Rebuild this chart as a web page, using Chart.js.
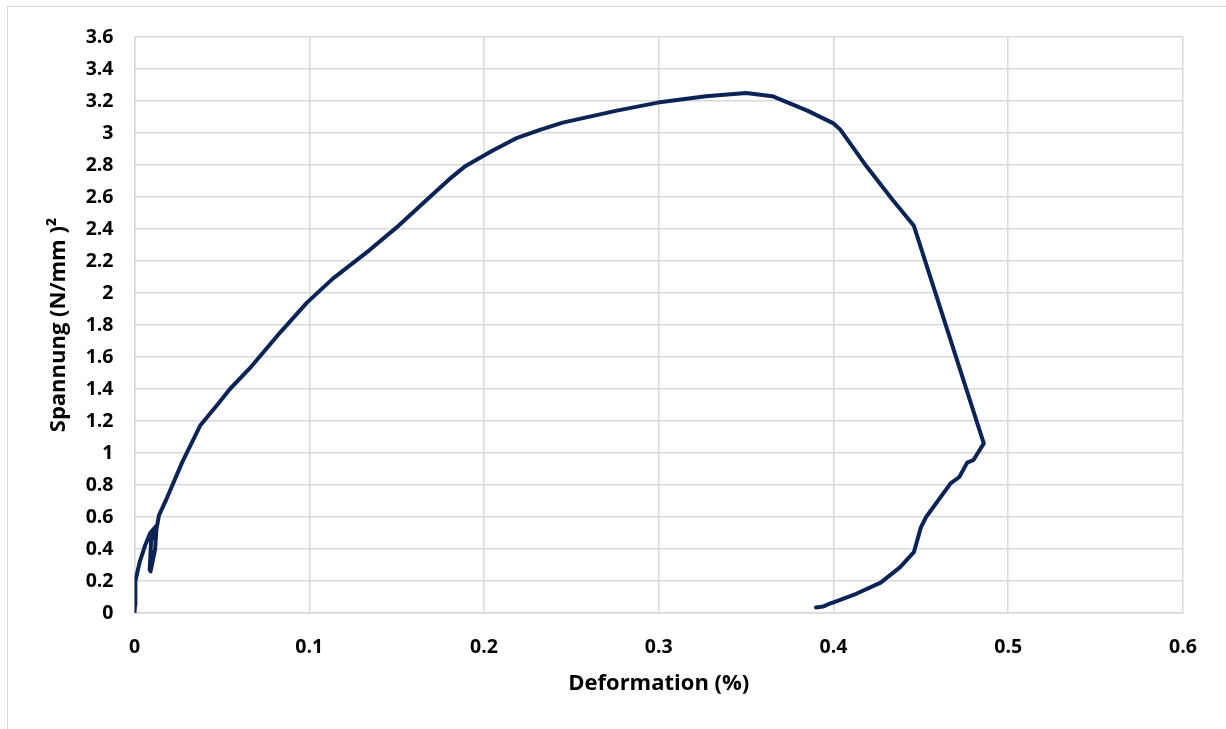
<!DOCTYPE html>
<html>
<head>
<meta charset="utf-8">
<script src="https://cdn.jsdelivr.net/npm/chart.js@4/dist/chart.umd.min.js"></script>
<style>
  html, body { margin: 0; padding: 0; background: #ffffff; }
  #frame { position: absolute; left: 7px; top: 6px; width: 1240px; height: 760px; border: 1.5px solid #d9d9d9; box-sizing: border-box; }
  #c { position: absolute; left: 0; top: 0; }
</style>
</head>
<body>
<div id="frame"></div>
<canvas id="c" width="1226" height="729"></canvas>
<script>
// Deformation (%) values
const deformation = [
  0.000, 0.0003, 0.0005, 0.003, 0.006, 0.009, 0.0129,
  0.0095, 0.0087, 0.0092, 0.0118, 0.0125,
  0.0140, 0.0186, 0.0272, 0.0375, 0.048, 0.0546,
  0.066, 0.0815, 0.0987, 0.1135, 0.1347, 0.150, 0.169,
  0.180, 0.189, 0.197, 0.205, 0.219, 0.232, 0.245, 0.276, 0.2995, 0.327, 0.350, 0.365,
  0.385, 0.400, 0.404, 0.419, 0.434, 0.446,
  0.486, 0.480, 0.4765, 0.472, 0.467, 0.453, 0.450, 0.446, 0.438,
  0.427, 0.413, 0.400, 0.397, 0.394, 0.390
];
// Spannung (N/mm²) values
const spannung = [
  0.00, 0.05, 0.20, 0.32, 0.42, 0.50, 0.55,
  0.45, 0.27, 0.26, 0.40, 0.52,
  0.61, 0.72, 0.94, 1.17, 1.31, 1.40,
  1.53, 1.73, 1.94, 2.09, 2.27, 2.41, 2.60,
  2.71, 2.79, 2.84, 2.89, 2.97, 3.02, 3.065, 3.14, 3.19, 3.23, 3.25, 3.23,
  3.14, 3.06, 3.02, 2.79, 2.58, 2.42,
  1.06, 0.955, 0.94, 0.85, 0.81, 0.60, 0.535, 0.38, 0.285,
  0.19, 0.12, 0.067, 0.055, 0.04, 0.035
];
const xTickLabels = ['0', '0.1', '0.2', '0.3', '0.4', '0.5', '0.6'];
const yTickLabels = ['0', '0.2', '0.4', '0.6', '0.8', '1', '1.2', '1.4', '1.6', '1.8', '2',
  '2.2', '2.4', '2.6', '2.8', '3', '3.2', '3.4', '3.6'];

const points = deformation.map((x, i) => ({ x: x, y: spannung[i] }));
const FONT = '"Open Sans", "Noto Sans", sans-serif';
const GRID = '#d9d9d9';

new Chart(document.getElementById('c'), {
  type: 'scatter',
  data: {
    datasets: [{
      data: points,
      showLine: true,
      borderColor: '#0b2355',
      borderWidth: 4,
      pointRadius: 0,
      tension: 0,
      borderJoinStyle: 'round',
      borderCapStyle: 'round'
    }]
  },
  options: {
    responsive: false,
    animation: false,
    layout: { padding: { left: 0, right: 43, top: 37, bottom: 0 } },
    plugins: { legend: { display: false }, tooltip: { enabled: false } },
    scales: {
      x: {
        type: 'linear', min: 0, max: 0.6, z: 1,
        afterFit: s => { s.height = 116; },
        grid: { color: GRID, lineWidth: 1.5, drawTicks: false },
        border: { color: GRID, width: 1.5 },
        ticks: {
          stepSize: 0.1, padding: 23, color: '#000',
          font: { family: FONT, size: 19.5, weight: 'bold' },
          callback: (v) => xTickLabels[Math.round(v * 10)]
        },
        title: {
          display: true, text: 'Deformation (%)', color: '#000',
          font: { family: FONT, size: 22, weight: 'bold' },
          padding: { top: 0, bottom: 32 }
        }
      },
      y: {
        type: 'linear', min: 0, max: 3.6, z: 1,
        afterFit: s => { s.width = 134.5; },
        grid: { color: GRID, lineWidth: 1.5, drawTicks: false },
        border: { color: GRID, width: 1.5 },
        ticks: {
          stepSize: 0.2, padding: 21, color: '#000',
          font: { family: FONT, size: 19.5, weight: 'bold' },
          callback: (v) => yTickLabels[Math.round(v * 5)]
        },
        title: {
          display: true, text: 'Spannung (N/mm )²', color: '#000',
          font: { family: FONT, size: 22, weight: 'bold' },
          padding: { top: 46, bottom: 0 }
        }
      }
    }
  }
});
</script>
</body>
</html>
